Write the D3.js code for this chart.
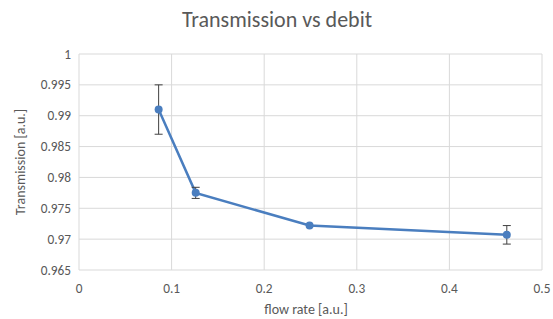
<!DOCTYPE html>
<html>
<head>
<meta charset="utf-8">
<script src="https://cdn.jsdelivr.net/npm/d3@7"></script>
<style>
  body { margin: 0; background: #fff; }
  svg text { font-family: Calibri, Carlito, Lato, sans-serif; fill: #595959; }
</style>
</head>
<body>
<svg id="chart" width="553" height="319"></svg>
<script>
// flow rate [a.u.]
var flowRate = [0.086, 0.126, 0.249, 0.462]
// transmission [a.u.]
var transmission = [0.991, 0.9775, 0.9722, 0.9707]
// error bar half-width
var errors = [0.004, 0.0009, 0, 0.0015]

var xTicks = [0, 0.1, 0.2, 0.3, 0.4, 0.5]
var yTicks = [0.965, 0.97, 0.975, 0.98, 0.985, 0.99, 0.995, 1]

var data = flowRate.map((d, i) => ({x: d, y: transmission[i], e: errors[i]}))

var svg = d3.select('#chart')

var x = d3.scaleLinear().domain([0, 0.5]).range([79, 542])
var y = d3.scaleLinear().domain([0.965, 1]).range([270, 54])

// gridlines
svg.append('g')
  .selectAll('line.h').data(yTicks).join('line')
  .attr('x1', x(0)).attr('x2', x(0.5))
  .attr('y1', d => y(d)).attr('y2', d => y(d))
  .attr('stroke', '#d9d9d9').attr('stroke-width', 1)

svg.append('g')
  .selectAll('line.v').data(xTicks).join('line')
  .attr('x1', d => x(d)).attr('x2', d => x(d))
  .attr('y1', y(0.965)).attr('y2', y(1))
  .attr('stroke', '#d9d9d9').attr('stroke-width', 1)

// tick labels
svg.append('g')
  .selectAll('text').data(yTicks).join('text')
  .attr('x', x(0) - 8).attr('y', d => y(d) + 4.5)
  .attr('text-anchor', 'end')
  .style('font-size', '13.3px')
  .text(d => d3.format('')(+d.toFixed(3)))

svg.append('g')
  .selectAll('text').data(xTicks).join('text')
  .attr('x', d => x(d)).attr('y', y(0.965) + 23)
  .attr('text-anchor', 'middle')
  .style('font-size', '13.3px')
  .text(d => d3.format('')(+d.toFixed(1)))

// line
svg.append('path')
  .datum(data)
  .attr('d', d3.line().x(d => x(d.x)).y(d => y(d.y)))
  .attr('fill', 'none')
  .attr('stroke', '#4a7ebf')
  .attr('stroke-width', 2.5)

// error bars
var eb = svg.append('g').selectAll('g').data(data.filter(d => d.e > 0)).join('g')
  .attr('stroke', '#404040').attr('stroke-width', 1)
eb.append('line')
  .attr('x1', d => x(d.x)).attr('x2', d => x(d.x))
  .attr('y1', d => y(d.y + d.e)).attr('y2', d => y(d.y - d.e))
eb.append('line')
  .attr('x1', d => x(d.x) - 4).attr('x2', d => x(d.x) + 4)
  .attr('y1', d => y(d.y + d.e)).attr('y2', d => y(d.y + d.e))
eb.append('line')
  .attr('x1', d => x(d.x) - 4).attr('x2', d => x(d.x) + 4)
  .attr('y1', d => y(d.y - d.e)).attr('y2', d => y(d.y - d.e))

// markers
svg.append('g').selectAll('circle').data(data).join('circle')
  .attr('cx', d => x(d.x)).attr('cy', d => y(d.y))
  .attr('r', 4)
  .attr('fill', '#4a7ebf')

// titles
svg.append('text')
  .attr('x', 277).attr('y', 27)
  .attr('text-anchor', 'middle')
  .style('font-size', '22px')
  .text('Transmission vs debit')

svg.append('text')
  .attr('x', 306).attr('y', 314)
  .attr('text-anchor', 'middle')
  .style('font-size', '14px')
  .text('flow rate [a.u.]')

svg.append('text')
  .attr('transform', 'translate(25,' + y(0.9825) + ') rotate(-90)')
  .attr('text-anchor', 'middle')
  .style('font-size', '14px')
  .text('Transmission [a.u.]')
</script>
</body>
</html>
